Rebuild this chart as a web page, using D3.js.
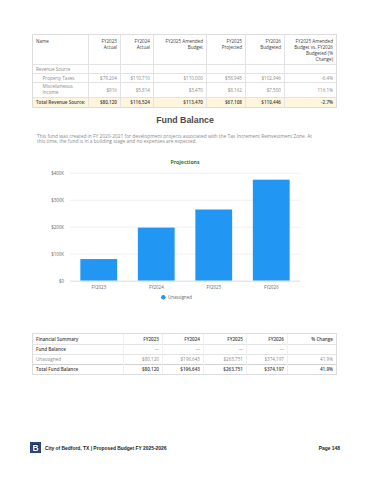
<!DOCTYPE html>
<html>
<head>
<meta charset="utf-8">
<script src="https://cdn.jsdelivr.net/npm/d3@7"></script>
<style>
  html, body { margin: 0; padding: 0; background: #fff; }
  svg text { font-family: "Open Sans", sans-serif; }
</style>
</head>
<body>
<div id="page"></div>
<script>
// --- data ---
var revenueHeaders = [["Name"], ["FY2023", "Actual"], ["FY2024", "Actual"], ["FY2025 Amended", "Budget"],
  ["FY2025", "Projected"], ["FY2026", "Budgeted"], ["FY2025 Amended", "Budget vs. FY2026", "Budgeted (%", "Change)"]];
var propertyTaxes = ["$79,204", "$110,710", "$110,000", "$58,945", "$102,946", "-6.4%"];
var miscIncome = ["$916", "$5,814", "$3,470", "$8,162", "$7,500", "116.1%"];
var totalRevenue = ["$80,120", "$116,524", "$113,470", "$67,108", "$110,446", "-2.7%"];

var years = ["FY2023", "FY2024", "FY2025", "FY2026"];
var unassigned = [80120, 196643, 263751, 374197];
var yTicks = [0, 100000, 200000, 300000, 400000];

var summaryHeaders = ["Financial Summary", "FY2023", "FY2024", "FY2025", "FY2026", "% Change"];
var fundBalanceRow = ["\u2014", "\u2014", "\u2014", "\u2014", ""];
var unassignedRow = ["$80,120", "$196,643", "$263,751", "$374,197", "41.9%"];
var totalFundRow = ["$80,120", "$196,643", "$263,751", "$374,197", "41.9%"];

var W = 370, H = 480;
var svg = d3.select('#page').append('svg').attr('width', W).attr('height', H);
svg.append('rect').attr('width', W).attr('height', H).attr('fill', '#fff');

var lineCol = '#e3e3e3';
var dark = '#3d3d3d', light = '#8a8a8a';

// --- revenue table ---
var revCols = [33, 88, 120, 153, 206, 245, 284, 336];
var revRows = [35, 64, 73, 82, 97, 107];
var revTable = svg.append('g');
revTable.append('rect').attr('x', 33).attr('y', revRows[4]).attr('width', 303).attr('height', revRows[5] - revRows[4]).attr('fill', '#fdf5de');
revTable.append('rect').attr('x', 32.5).attr('y', 34.5).attr('width', 304).attr('height', 73).attr('fill', 'none').attr('stroke', '#dcdcdc');
revRows.slice(1, 5).forEach(function (yy) {
  revTable.append('line').attr('x1', 33).attr('x2', 336).attr('y1', yy + 0.5).attr('y2', yy + 0.5).attr('stroke', lineCol);
});
revCols.slice(1, 7).forEach(function (xx) {
  revTable.append('line').attr('x1', xx + 0.5).attr('x2', xx + 0.5).attr('y1', 35).attr('y2', 107).attr('stroke', lineCol);
});
revenueHeaders.forEach(function (lines, i) {
  var tx = i === 0 ? 36 : revCols[i + 1] - 3;
  var t = revTable.append('text').attr('font-size', 4.6).attr('fill', dark)
    .attr('text-anchor', i === 0 ? 'start' : 'end');
  lines.forEach(function (s, j) {
    t.append('tspan').attr('x', tx).attr('y', 42.5 + j * 6).text(s);
  });
});
revTable.append('text').attr('x', 36).attr('y', 70.5).attr('font-size', 4.6).attr('fill', light).text('Revenue Source');
revTable.append('text').attr('x', 42.5).attr('y', 79.5).attr('font-size', 4.6).attr('fill', light).text('Property Taxes');
revTable.append('text').attr('x', 42.5).attr('y', 88).attr('font-size', 4.6).attr('fill', light).text('Miscellaneous');
revTable.append('text').attr('x', 42.5).attr('y', 94).attr('font-size', 4.6).attr('fill', light).text('Income');
revTable.append('text').attr('x', 36).attr('y', 103.8).attr('font-size', 4.6).attr('fill', dark).attr('font-weight', 600).text('Total Revenue Source:');
function revRow(vals, yy, col, wt) {
  vals.forEach(function (v, i) {
    revTable.append('text').attr('x', revCols[i + 2] - 3).attr('y', yy).attr('text-anchor', 'end')
      .attr('font-size', 4.6).attr('fill', col).attr('font-weight', wt).text(v);
  });
}
revRow(propertyTaxes, 79.5, light, 400);
revRow(miscIncome, 91.5, light, 400);
revRow(totalRevenue, 103.8, dark, 600);

// --- heading + note ---
svg.append('text').attr('x', 185).attr('y', 122.5).attr('text-anchor', 'middle')
  .style('font-family', 'Liberation Sans, Arial, sans-serif').attr('font-weight', 'bold')
  .attr('font-size', 8.8).attr('fill', '#4a4a4a').text('Fund Balance');
svg.append('text').attr('x', 37).attr('y', 137.5).attr('font-size', 4.85).attr('fill', light)
  .text('This fund was created in FY 2020-2021 for development projects associated with the Tax Increment Reinvestment Zone. At');
svg.append('text').attr('x', 37).attr('y', 143.3).attr('font-size', 4.85).attr('fill', light)
  .text('this time, the fund is in a building stage and no expenses are expected.');

// --- chart ---
svg.append('text').attr('x', 185).attr('y', 163.5).attr('text-anchor', 'middle')
  .attr('font-size', 5.2).attr('font-weight', 700).attr('fill', '#2e7d32').text('Projections');

var x = d3.scaleBand().domain(years).range([70, 300]).paddingInner(0.36).paddingOuter(0.18);
var y = d3.scaleLinear().domain([0, 400000]).range([280.7, 172.7]);

var yAxis = svg.append('g').attr('transform', 'translate(70,0)')
  .call(d3.axisLeft(y).tickValues(yTicks).tickSize(-230).tickPadding(6)
    .tickFormat(function (d) { return d === 0 ? '$0' : '$' + d / 1000 + 'K'; }));
yAxis.select('.domain').remove();
yAxis.selectAll('.tick line').attr('stroke', '#eef0f5');
yAxis.selectAll('.tick text').attr('font-size', 4.4).attr('fill', '#666').attr('font-family', null);

svg.selectAll('.bar').data(unassigned).enter().append('rect').attr('class', 'bar')
  .attr('x', function (d, i) { return x(years[i]); })
  .attr('width', x.bandwidth())
  .attr('y', function (d) { return y(d); })
  .attr('height', function (d) { return y(0) - y(d); })
  .attr('fill', '#2196f3');

svg.append('line').attr('x1', 70).attr('x2', 300).attr('y1', y(0) + 0.5).attr('y2', y(0) + 0.5).attr('stroke', '#dde3ee');

var xAxis = svg.append('g').attr('transform', 'translate(0,' + y(0) + ')')
  .call(d3.axisBottom(x).tickSize(0).tickPadding(5));
xAxis.select('.domain').remove();
xAxis.selectAll('.tick text').attr('font-size', 4.4).attr('fill', '#666').attr('font-family', null);

svg.append('circle').attr('cx', 163.3).attr('cy', 297.3).attr('r', 2.2).attr('fill', '#2196f3');
svg.append('text').attr('x', 168).attr('y', 298.9).attr('font-size', 4.4).attr('fill', '#666').text('Unassigned');

// --- summary table ---
var sumCols = [33, 123, 162, 203, 246, 287, 336];
var sumRows = [334, 344, 354, 364, 374];
var bot = svg.append('g');
bot.append('rect').attr('x', 32.5).attr('y', 333.5).attr('width', 304).attr('height', 41).attr('fill', 'none').attr('stroke', '#dcdcdc');
sumRows.slice(1, 4).forEach(function (yy, i) {
  bot.append('line').attr('x1', 33).attr('x2', 336).attr('y1', yy + 0.5).attr('y2', yy + 0.5)
    .attr('stroke', i === 2 ? '#d0d0d0' : lineCol);
});
sumCols.slice(1, 6).forEach(function (xx) {
  bot.append('line').attr('x1', xx + 0.5).attr('x2', xx + 0.5).attr('y1', 334).attr('y2', 374).attr('stroke', '#efefef');
});
function sumRow(label, vals, yy, col, wt, valCol) {
  bot.append('text').attr('x', 36).attr('y', yy).attr('font-size', 4.6).attr('fill', col).attr('font-weight', wt).text(label);
  vals.forEach(function (v, i) {
    bot.append('text').attr('x', sumCols[i + 2] - 3).attr('y', yy).attr('text-anchor', 'end')
      .attr('font-size', 4.6).attr('fill', valCol || col).attr('font-weight', wt).text(v);
  });
}
sumRow(summaryHeaders[0], summaryHeaders.slice(1), 340.8, dark, 600);
sumRow('Fund Balance', fundBalanceRow, 350.8, dark, 600, '#b0b0b0');
sumRow('Unassigned', unassignedRow, 360.8, light, 400);
sumRow('Total Fund Balance', totalFundRow, 370.8, dark, 600);

// --- footer ---
var foot = svg.append('g');
foot.append('rect').attr('x', 30).attr('y', 442).attr('width', 11).attr('height', 11).attr('fill', '#17305a');
foot.append('rect').attr('x', 31).attr('y', 443).attr('width', 9).attr('height', 9).attr('fill', 'none').attr('stroke', '#4f7fc0').attr('stroke-width', 0.6);
foot.append('text').attr('x', 35.5).attr('y', 450.8).attr('text-anchor', 'middle').attr('font-size', 8.5)
  .attr('font-weight', 'bold').attr('fill', '#fff').style('font-family', 'Liberation Sans, Arial, sans-serif').text('B');
foot.append('text').attr('x', 45).attr('y', 449.5).attr('font-size', 4.9).attr('font-weight', 'bold').attr('fill', '#222')
  .style('font-family', 'Liberation Sans, Arial, sans-serif').text('City of Bedford, TX | Proposed Budget FY 2025-2026');
foot.append('text').attr('x', 340).attr('y', 449.5).attr('text-anchor', 'end').attr('font-size', 4.9).attr('font-weight', 'bold').attr('fill', '#222')
  .style('font-family', 'Liberation Sans, Arial, sans-serif').text('Page 148');
</script>
</body>
</html>
